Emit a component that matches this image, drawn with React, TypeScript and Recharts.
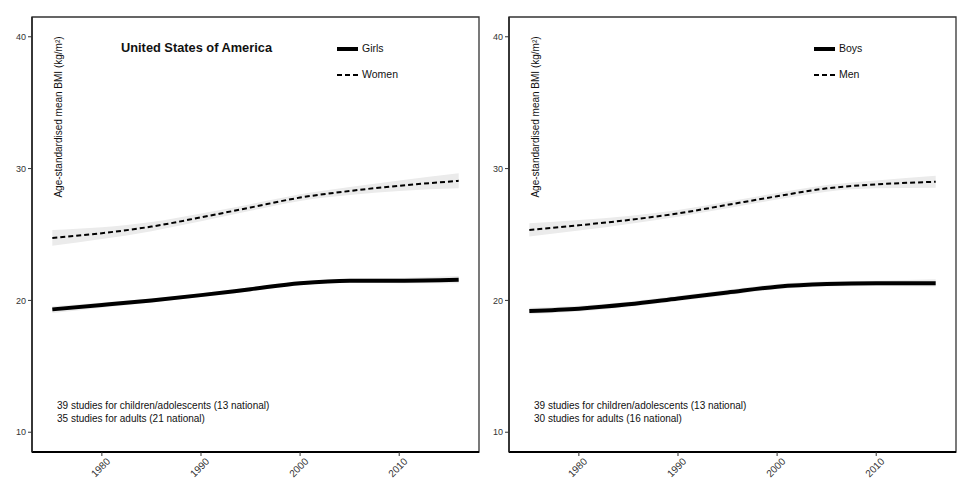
import React from "react";
import { ComposedChart, Line, Area, XAxis, YAxis, ReferenceArea } from "recharts";

// values
const years = [1975, 1980, 1985, 1990, 1995, 2000, 2005, 2010, 2016];

const girls = [19.32, 19.65, 20.0, 20.4, 20.85, 21.3, 21.5, 21.5, 21.57];
const girlsLo = [19.05, 19.45, 19.85, 20.25, 20.7, 21.15, 21.35, 21.3, 21.3];
const girlsHi = [19.55, 19.85, 20.15, 20.55, 21.0, 21.45, 21.65, 21.7, 21.85];

const women = [24.74, 25.1, 25.6, 26.3, 27.05, 27.8, 28.3, 28.7, 29.07];
const womenLo = [24.15, 24.65, 25.25, 26.0, 26.8, 27.55, 28.0, 28.3, 28.5];
const womenHi = [25.35, 25.55, 25.95, 26.6, 27.3, 28.05, 28.6, 29.1, 29.65];

const boys = [19.2, 19.37, 19.7, 20.15, 20.6, 21.04, 21.24, 21.3, 21.3];
const boysLo = [18.95, 19.15, 19.5, 19.95, 20.4, 20.85, 21.05, 21.1, 21.05];
const boysHi = [19.45, 19.6, 19.9, 20.35, 20.8, 21.25, 21.45, 21.5, 21.6];

const men = [25.35, 25.7, 26.1, 26.6, 27.25, 27.9, 28.5, 28.8, 29.0];
const menLo = [24.85, 25.3, 25.8, 26.35, 27.0, 27.65, 28.25, 28.5, 28.55];
const menHi = [25.85, 26.1, 26.4, 26.85, 27.5, 28.15, 28.75, 29.1, 29.45];

const xTicks = [1980, 1990, 2000, 2010];
const yTicks = [10, 20, 30, 40];
const xDomain: [number, number] = [1972.95, 2018.05];
const yDomain: [number, number] = [8.5, 41.5];

const FONT = "'Liberation Sans', Arial, Helvetica, sans-serif";

const RotatedTick = ({ x, y, payload }: any) => (
  <g transform={`translate(${x + 4},${y - 1})`}>
    <text
      transform="rotate(-45)"
      textAnchor="end"
      dy="0.71em"
      fontSize={10}
      fill="#333"
      fontFamily={FONT}
    >
      {payload.value}
    </text>
  </g>
);

interface PanelProps {
  left: number;
  title?: string;
  childLabel: string;
  adultLabel: string;
  child: number[];
  childLo: number[];
  childHi: number[];
  adult: number[];
  adultLo: number[];
  adultHi: number[];
  notes: string[];
}

function Panel(p: PanelProps) {
  const data = years.map((year, i) => ({
    year,
    child: p.child[i],
    childBand: [p.childLo[i], p.childHi[i]],
    adult: p.adult[i],
    adultBand: [p.adultLo[i], p.adultHi[i]],
  }));

  return (
    <div style={{ position: "absolute", left: p.left, top: 0, width: 490, height: 492 }}>
      <ComposedChart
        width={490}
        height={492}
        data={data}
        margin={{ top: 17, right: 11, bottom: 0, left: 0 }}
      >
        {/* panel frame */}
        <ReferenceArea
          x1={xDomain[0]}
          x2={xDomain[1]}
          y1={yDomain[0]}
          y2={yDomain[1]}
          fill="none"
          stroke="#333"
          strokeWidth={1.3}
        />
        <XAxis
          dataKey="year"
          type="number"
          domain={xDomain}
          ticks={xTicks}
          allowDataOverflow
          height={40}
          tickSize={4}
          tickLine={{ stroke: "#333" }}
          axisLine={{ stroke: "#000", strokeWidth: 2 }}
          tick={<RotatedTick />}
        />
        <YAxis
          type="number"
          domain={yDomain}
          ticks={yTicks}
          allowDataOverflow
          width={32}
          tickSize={4}
          tickLine={{ stroke: "#333" }}
          axisLine={{ stroke: "#222", strokeWidth: 1.5 }}
          tick={{ fontSize: 9, fill: "#333", fontFamily: FONT }}
        />
        <Area
          type="monotone"
          dataKey="adultBand"
          stroke="none"
          fill="#ebebeb"
          fillOpacity={1}
          isAnimationActive={false}
        />
        <Area
          type="monotone"
          dataKey="childBand"
          stroke="none"
          fill="#ebebeb"
          fillOpacity={1}
          isAnimationActive={false}
        />
        <Line
          type="monotone"
          dataKey="adult"
          stroke="#000"
          strokeWidth={2}
          strokeDasharray="5 3"
          dot={false}
          isAnimationActive={false}
        />
        <Line
          type="monotone"
          dataKey="child"
          stroke="#000"
          strokeWidth={4}
          dot={false}
          isAnimationActive={false}
        />
      </ComposedChart>

      {/* y title sits inside the panel */}
      <div
        style={{
          position: "absolute",
          left: 58,
          top: 117,
          transform: "translate(-50%, -50%) rotate(-90deg)",
          whiteSpace: "nowrap",
          fontFamily: FONT,
          fontSize: 10,
          color: "#111",
        }}
      >
        Age-standardised mean BMI (kg/m²)
      </div>

      {p.title && (
        <div
          style={{
            position: "absolute",
            left: 121,
            top: 40,
            fontFamily: FONT,
            fontSize: 12.8,
            fontWeight: "bold",
            color: "#111",
            whiteSpace: "nowrap",
          }}
        >
          {p.title}
        </div>
      )}

      {/* legend */}
      <svg style={{ position: "absolute", left: 337, top: 40, overflow: "visible" }} width={22} height={40}>
        <line x1={0} x2={21} y1={9} y2={9} stroke="#000" strokeWidth={4} />
        <line x1={0} x2={21} y1={35} y2={35} stroke="#000" strokeWidth={2} strokeDasharray="5 3" />
      </svg>
      <div style={{ position: "absolute", left: 362, top: 42, fontFamily: FONT, fontSize: 10.5, color: "#111" }}>
        {p.childLabel}
      </div>
      <div style={{ position: "absolute", left: 362, top: 68, fontFamily: FONT, fontSize: 10.5, color: "#111" }}>
        {p.adultLabel}
      </div>

      <div
        style={{
          position: "absolute",
          left: 57,
          top: 399,
          fontFamily: FONT,
          fontSize: 10,
          lineHeight: "13px",
          color: "#111",
          whiteSpace: "nowrap",
        }}
      >
        {p.notes.map((n) => (
          <div key={n}>{n}</div>
        ))}
      </div>
    </div>
  );
}

export default function App() {
  return (
    <div style={{ position: "absolute", left: 0, top: 0, width: 980, height: 492, background: "#fff" }}>
      <Panel
        left={0}
        title="United States of America"
        childLabel="Girls"
        adultLabel="Women"
        child={girls}
        childLo={girlsLo}
        childHi={girlsHi}
        adult={women}
        adultLo={womenLo}
        adultHi={womenHi}
        notes={["39 studies for children/adolescents (13 national)", "35 studies for adults (21 national)"]}
      />
      <Panel
        left={477}
        childLabel="Boys"
        adultLabel="Men"
        child={boys}
        childLo={boysLo}
        childHi={boysHi}
        adult={men}
        adultLo={menLo}
        adultHi={menHi}
        notes={["39 studies for children/adolescents (13 national)", "30 studies for adults (16 national)"]}
      />
    </div>
  );
}
